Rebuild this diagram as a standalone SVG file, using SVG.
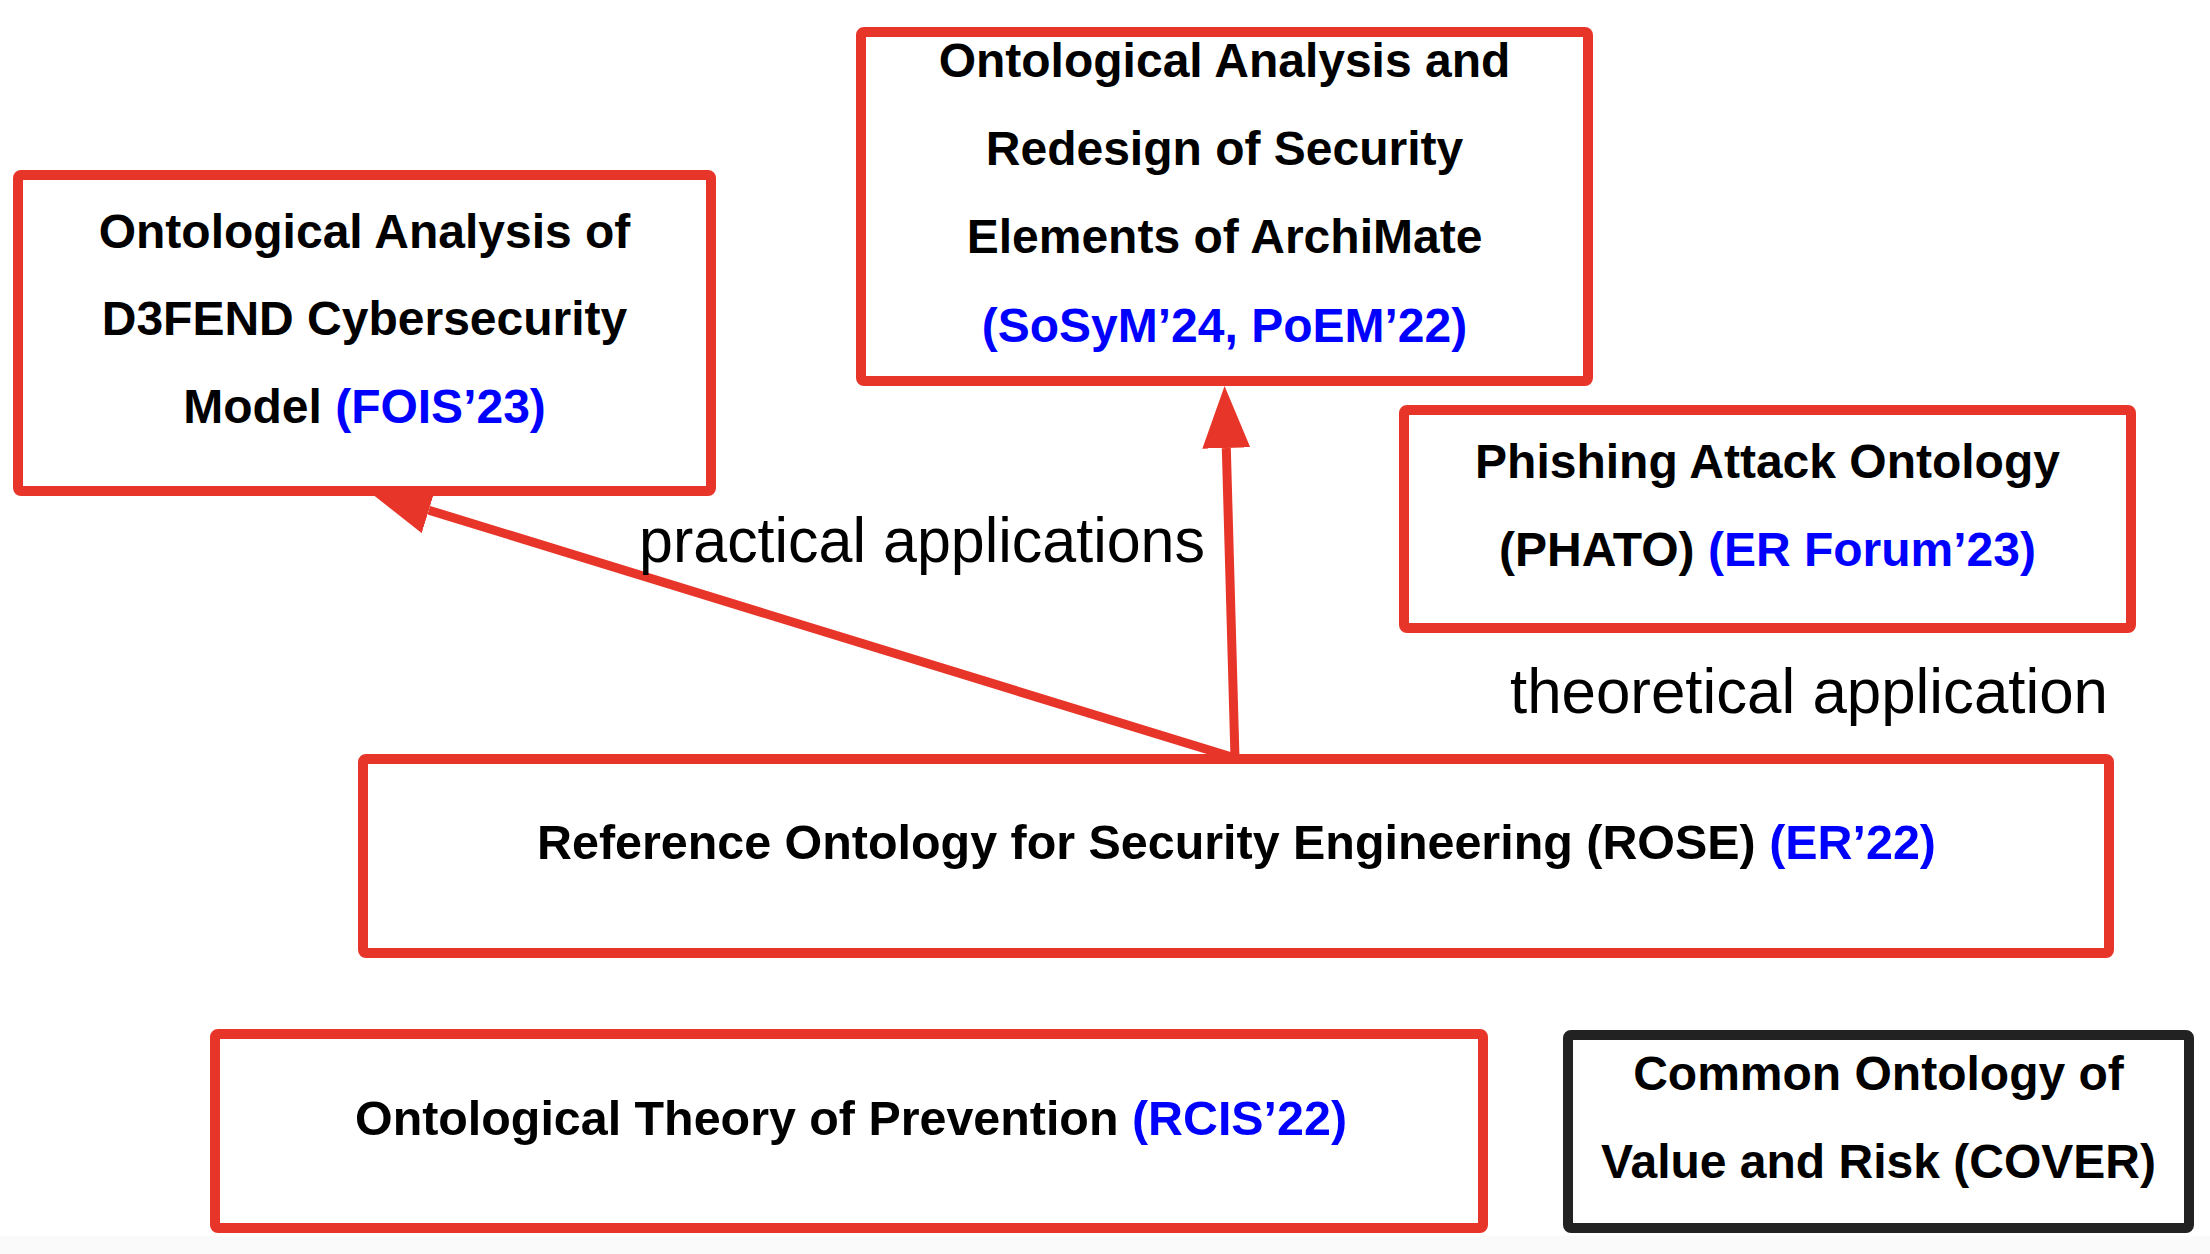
<svg xmlns="http://www.w3.org/2000/svg" width="2210" height="1254" viewBox="0 0 2210 1254">
  <style>
    .box { fill: #ffffff; stroke: #e8352a; stroke-width: 10; }
    .box.dark { stroke: #222222; }
    .t { font-family: "Liberation Sans", Arial, sans-serif; font-weight: bold; font-size: 48px; fill: #000000; text-anchor: middle; }
    .ref { fill: #0000ff; }
    .lbl { font-family: "Liberation Sans", Arial, sans-serif; font-size: 63px; fill: #000000; }
    .conn { stroke: #e8352a; stroke-width: 9; fill: none; }
  </style>
  <defs>
    <marker id="arrow" viewBox="0 0 62 48" refX="0" refY="24" markerWidth="62" markerHeight="48" markerUnits="userSpaceOnUse" orient="auto">
      <path d="M0,0 L62,24 L0,48 Z" fill="#e8352a"/>
    </marker>
  </defs>
  <rect x="0" y="0" width="2210" height="1254" fill="#ffffff"/>
  <rect x="0" y="1236" width="2210" height="18" fill="#fafafa"/>

  <g id="connectors">
    <line class="conn" x1="1235" y1="758" x2="428.8" y2="510.2" marker-end="url(#arrow)"/>
    <line class="conn" x1="1235" y1="758" x2="1226.3" y2="448" marker-end="url(#arrow)"/>
    <text class="lbl" x="639" y="562" textLength="566" lengthAdjust="spacingAndGlyphs">practical applications</text>
    <text class="lbl" x="1510" y="713" textLength="598" lengthAdjust="spacingAndGlyphs">theoretical application</text>
  </g>

  <g id="d3fend">
    <rect class="box" x="18" y="175" width="693" height="316" rx="3"/>
    <text class="t" x="364.5" y="248">Ontological Analysis of</text>
    <text class="t" x="364.5" y="335">D3FEND Cybersecurity</text>
    <text class="t" x="364.5" y="423">Model <tspan class="ref">(FOIS’23)</tspan></text>
  </g>

  <g id="archimate">
    <rect class="box" x="861" y="32" width="727" height="349" rx="3"/>
    <text class="t" x="1224.5" y="77">Ontological Analysis and</text>
    <text class="t" x="1224.5" y="165">Redesign of Security</text>
    <text class="t" x="1224.5" y="253">Elements of ArchiMate</text>
    <text class="t ref" x="1224.5" y="342">(SoSyM’24, PoEM’22)</text>
  </g>

  <g id="phato">
    <rect class="box" x="1404" y="410" width="727" height="218" rx="3"/>
    <text class="t" x="1767.5" y="478">Phishing Attack Ontology</text>
    <text class="t" x="1767.5" y="566">(PHATO) <tspan class="ref">(ER Forum’23)</tspan></text>
  </g>

  <g id="rose">
    <rect class="box" x="363" y="759" width="1746" height="194" rx="3"/>
    <text class="t" x="1236.5" y="859" textLength="1399" lengthAdjust="spacingAndGlyphs">Reference Ontology for Security Engineering (ROSE) <tspan class="ref">(ER’22)</tspan></text>
  </g>

  <g id="prevention">
    <rect class="box" x="215" y="1034" width="1268" height="194" rx="3"/>
    <text class="t" x="851" y="1135" textLength="992" lengthAdjust="spacingAndGlyphs">Ontological Theory of Prevention <tspan class="ref">(RCIS’22)</tspan></text>
  </g>

  <g id="cover">
    <rect class="box dark" x="1568" y="1035" width="621" height="193" rx="3"/>
    <text class="t" x="1878.5" y="1090">Common Ontology of</text>
    <text class="t" x="1878.5" y="1178">Value and Risk (COVER)</text>
  </g>
</svg>
